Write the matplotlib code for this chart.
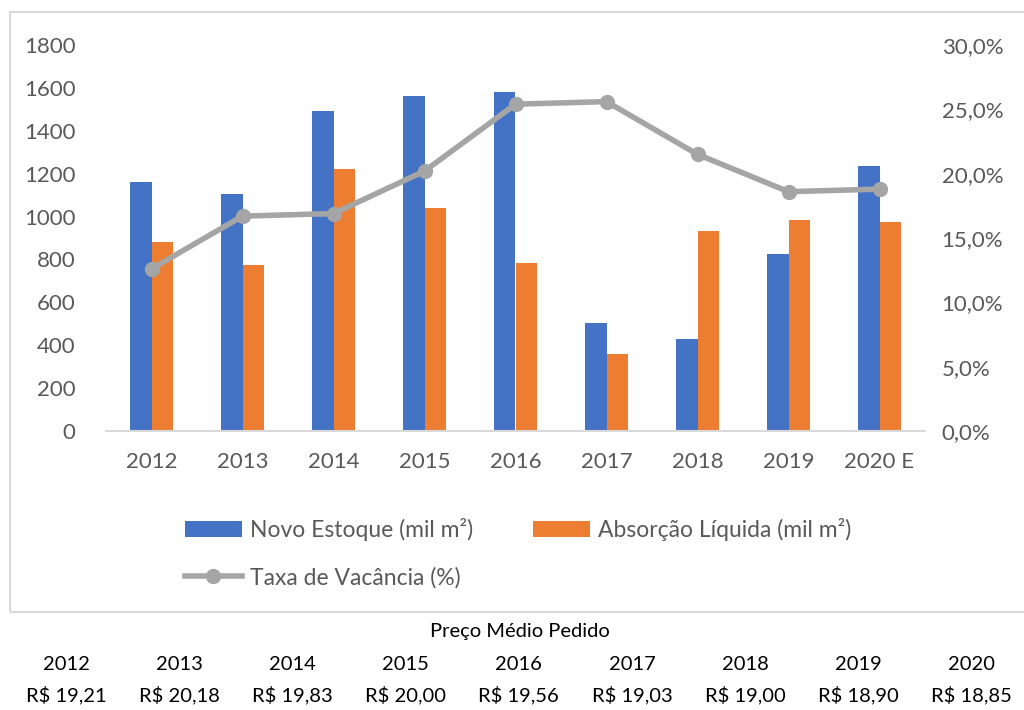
import numpy as np
import matplotlib
matplotlib.use("Agg")
import matplotlib.pyplot as plt
from matplotlib.patches import Rectangle
from matplotlib.ticker import FuncFormatter

plt.rcParams['font.family'] = ['Lato', 'DejaVu Sans']

# dados
anos = ['2012', '2013', '2014', '2015', '2016', '2017', '2018', '2019', '2020 E']
novo_estoque = [1160, 1105, 1490, 1562, 1581, 505, 427, 824, 1237]
absorcao = [880, 775, 1223, 1040, 782, 359, 934, 985, 973]
vacancia = [12.6, 16.7, 16.9, 20.2, 25.4, 25.6, 21.5, 18.6, 18.8]

preco_anos = ['2012', '2013', '2014', '2015', '2016', '2017', '2018', '2019', '2020']
precos = ['19,21', '20,18', '19,83', '20,00', '19,56', '19,03', '19,00', '18,90', '18,85']

azul = '#4472c4'
laranja = '#ed7d31'
cinza = '#a5a5a5'
texto = '#595959'

fig = plt.figure(figsize=(10.24, 7.1), dpi=100)

# moldura do gráfico
fig.patches.append(Rectangle((10 / 1024, 1 - 612 / 710), 1.1, (612 - 12) / 710,
                             transform=fig.transFigure, fill=False,
                             edgecolor='#d9d9d9', linewidth=1.5))

ax = fig.add_axes([106 / 1024, 1 - 431 / 710, 819 / 1024, 386 / 710])
x = np.arange(len(anos))
w = 0.235
b1 = ax.bar(x - w / 2, novo_estoque, w, color=azul, label='Novo Estoque (mil m²)')
b2 = ax.bar(x + w / 2, absorcao, w, color=laranja, label='Absorção Líquida (mil m²)')
ax.set_xlim(-0.5, len(anos) - 0.5)
ax.set_ylim(0, 1800)
ax.set_yticks(range(0, 1801, 200))
ax.set_xticks(x)
ax.set_xticklabels(anos)
for s in ['top', 'left', 'right']:
    ax.spines[s].set_visible(False)
ax.spines['bottom'].set_color('#d9d9d9')
ax.spines['bottom'].set_linewidth(1.5)
ax.tick_params(axis='both', length=0, labelsize=16, colors=texto)
ax.tick_params(axis='y', pad=22)
ax.tick_params(axis='x', pad=15)

ax2 = ax.twinx()
l1, = ax2.plot(x, vacancia, color=cinza, linewidth=4, marker='o', markersize=10,
               label='Taxa de Vacância (%)')
ax2.set_ylim(0, 30)
ax2.set_yticks(range(0, 31, 5))
ax2.yaxis.set_major_formatter(FuncFormatter(lambda v, p: f'{v:.1f}%'.replace('.', ',')))
for s in ax2.spines.values():
    s.set_visible(False)
ax2.tick_params(axis='y', length=0, labelsize=16, colors=texto, pad=12)

fig.legend([b1, l1, b2], [b1.get_label(), l1.get_label(), b2.get_label()],
           ncol=2, loc='upper left', bbox_to_anchor=(164 / 1024, 1 - 497 / 710),
           frameon=False, fontsize=16.5, labelcolor=texto, handlelength=2.5,
           handletextpad=0.35, columnspacing=2.6, labelspacing=1.15)

# tabela de preço
fig.text(520 / 1024, 1 - 632 / 710, 'Preço Médio Pedido', ha='center', va='center',
         fontsize=14.5, color='black')
for i, (a, p) in enumerate(zip(preco_anos, precos)):
    xc = (66 + i * 113.2) / 1024
    fig.text(xc, 1 - 665 / 710, a, ha='center', va='center', fontsize=14.5, color='black')
    fig.text(xc, 1 - 695 / 710, 'R$ ' + p, ha='center', va='center', fontsize=14.5, color='black')

fig.savefig('out.png', dpi=100)
